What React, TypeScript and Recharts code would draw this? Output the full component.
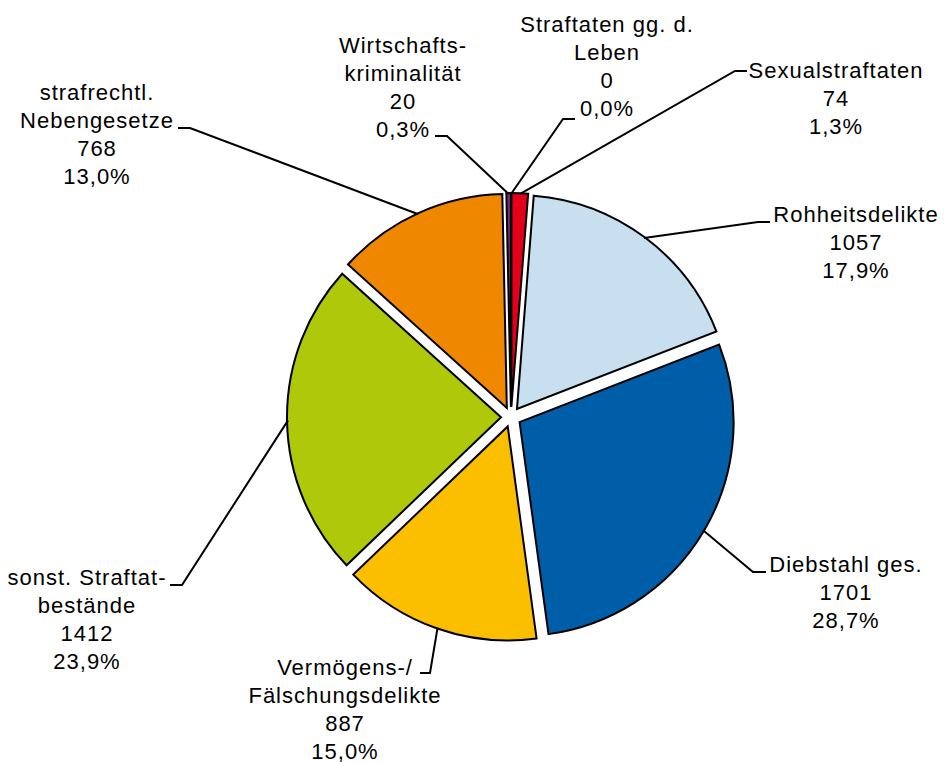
import { PieChart, Pie, Cell, Sector } from "recharts";

// categories clockwise from 12 o'clock
const categories = [
  "Straftaten gg. d.\nLeben",
  "Sexualstraftaten",
  "Rohheitsdelikte",
  "Diebstahl ges.",
  "Vermögens-/\nFälschungsdelikte",
  "sonst. Straftat-\nbestände",
  "strafrechtl.\nNebengesetze",
  "Wirtschafts-\nkriminalität",
];
const counts = [0, 74, 1057, 1701, 887, 1412, 768, 20];
const colors = [
  "#e2001a",
  "#e2001a",
  "#c7dfee",
  "#005ea8",
  "#fcbf00",
  "#afc90a",
  "#ef8800",
  "#7a2a82",
];

const data = categories.map((name, i) => ({ name, value: counts[i] }));

const RAD = Math.PI / 180;
const EXPLODE = 10;
const FONT = "'Liberation Sans', Arial, sans-serif";
const LINE_H = 28;

// label placement: text centre x, first baseline y, leader elbow (label end -> knee)
const labelLayout: Record<string, { x: number; y: number; elbow: [number, number][] }> = {
  "Straftaten gg. d.\nLeben": { x: 607, y: 32, elbow: [[575, 119], [563, 119]] },
  Sexualstraftaten: { x: 836, y: 78, elbow: [[747, 71], [735, 71]] },
  Rohheitsdelikte: { x: 856, y: 222, elbow: [[770, 222], [758, 222]] },
  "Diebstahl ges.": { x: 846, y: 572, elbow: [[766, 572], [753, 572]] },
  "Vermögens-/\nFälschungsdelikte": { x: 345, y: 675, elbow: [[420, 673], [430, 673]] },
  "sonst. Straftat-\nbestände": { x: 87, y: 585, elbow: [[170, 585], [182, 585]] },
  "strafrechtl.\nNebengesetze": { x: 97, y: 100, elbow: [[178, 128], [190, 128]] },
  "Wirtschafts-\nkriminalität": { x: 403, y: 53, elbow: [[435, 136], [447, 136]] },
};

// pull every slice away from the centre along its mid angle
function ExplodedSlice(props: any) {
  const { cx, cy, midAngle, value } = props;
  const dx = Math.cos(-midAngle * RAD) * EXPLODE;
  const dy = Math.sin(-midAngle * RAD) * EXPLODE;
  if (!value) return null;
  return <Sector {...props} cx={cx + dx} cy={cy + dy} />;
}

function renderLabel(props: any) {
  const { cx, cy, midAngle, outerRadius, name, value, percent } = props;
  const layout = labelLayout[name];
  if (!layout) return null;
  const r = outerRadius + EXPLODE - 1;
  const px = cx + Math.cos(-midAngle * RAD) * r;
  const py = cy + Math.sin(-midAngle * RAD) * r;
  const pts = [...layout.elbow, [px, py]];
  const lines = [...name.split("\n"), String(value), (percent * 100).toFixed(1).replace(".", ",") + "%"];
  return (
    <g>
      <polyline
        points={pts.map((p) => p.join(",")).join(" ")}
        fill="none"
        stroke="#000"
        strokeWidth={2}
      />
      <text
        x={layout.x}
        y={layout.y}
        textAnchor="middle"
        fontFamily={FONT}
        fontSize={22}
        letterSpacing={1}
        fill="#000"
      >
        {lines.map((l, i) => (
          <tspan key={i} x={layout.x} y={layout.y + i * LINE_H}>
            {l}
          </tspan>
        ))}
      </text>
    </g>
  );
}

export default function App() {
  return (
    <div style={{ position: "absolute", left: 0, top: 0, background: "#fff" }}>
      <PieChart width={944} height={762} margin={{ top: 0, right: 0, bottom: 0, left: 0 }}>
        <Pie
          data={data}
          dataKey="value"
          nameKey="name"
          cx={511}
          cy={417}
          outerRadius={214}
          startAngle={90}
          endAngle={-270}
          stroke="#000"
          strokeWidth={2}
          isAnimationActive={false}
          labelLine={false}
          label={renderLabel}
          shape={ExplodedSlice}
        >
          {data.map((d, i) => (
            <Cell key={d.name} fill={colors[i]} stroke={d.value ? "#000" : "none"} />
          ))}
        </Pie>
      </PieChart>
    </div>
  );
}
